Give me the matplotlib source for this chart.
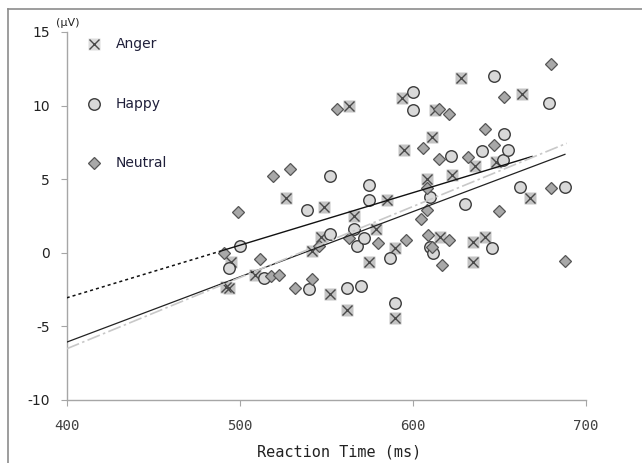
import matplotlib
matplotlib.use('Agg')
import matplotlib.pyplot as plt
from matplotlib.lines import Line2D
import numpy as np

# values (x: reaction time in ms, y: amplitude in microvolts)
anger_rt = [492, 494, 495, 509, 527, 542, 547, 549, 552, 562, 563, 566, 575, 579, 585,
            590, 590, 594, 595, 608, 611, 613, 616, 623, 628, 635, 635, 636, 642, 648,
            663, 668]
anger_amp = [-2.3, -2.4, -0.6, -1.5, 3.7, 0.1, 1.1, 3.1, -2.8, -3.9, 10.0, 2.5, -0.6, 1.6, 3.6,
             0.3, -4.4, 10.5, 7.0, 5.0, 7.9, 9.7, 1.1, 5.3, 11.9, 0.7, -0.6, 5.9, 1.1, 6.2,
             10.8, 3.7]

happy_rt = [494, 500, 514, 539, 540, 552, 552, 562, 566, 568, 570, 572, 575, 575, 587,
            590, 600, 600, 610, 610, 612, 622, 630, 640, 646, 647, 652, 653, 655, 662,
            679, 688]
happy_amp = [-1.0, 0.45, -1.7, 2.9, -2.45, 5.2, 1.3, -2.4, 1.6, 0.45, -2.25, 1.0, 4.6, 3.6, -0.35,
             -3.4, 10.9, 9.7, 3.8, 0.4, 0.0, 6.6, 3.3, 6.9, 0.3, 12.0, 6.3, 8.1, 7.0, 4.5,
             10.2, 4.5]

neutral_rt = [491, 499, 512, 518, 523, 519, 529, 532, 542, 546, 556, 563, 580, 596, 605,
              608, 608, 606, 609, 611, 615, 615, 617, 621, 621, 632, 642, 647, 650, 653,
              680, 680, 688]
neutral_amp = [0.0, 2.8, -0.45, -1.55, -1.5, 5.25, 5.7, -2.4, -1.8, 0.45, 9.8, 1.0, 0.65, 0.85, 2.3,
               2.9, 4.4, 7.1, 1.2, 0.4, 6.4, 9.8, -0.85, 9.4, 0.9, 6.5, 8.4, 7.3, 2.85, 10.6,
               12.8, 4.4, -0.55]

# trend lines: value at 400 ms, slope per ms, solid range
trend_names = ['Anger', 'Happy', 'Neutral']
trend_at_400 = [-3.06, -6.07, -6.52]
trend_slope = [0.0357, 0.0443, 0.0483]
trend_start = [490, 400, 400]
trend_end = [669, 688, 689]

x_ticks = [400, 500, 600, 700]
y_ticks = [-10, -5, 0, 5, 10, 15]

fig = plt.figure(figsize=(6.42, 4.63), dpi=100)
ax = fig.add_axes([0.1039, 0.1361, 0.8084, 0.7948])

# markers
ax.plot(anger_rt, anger_amp, 's', ms=8.3, mfc='#c4c4c4', mec='none', zorder=3)
ax.plot(anger_rt, anger_amp, 'x', ms=7.8, mec='#4a4a4a', mew=1.0, zorder=3)
ax.plot(happy_rt, happy_amp, 'o', ms=8.3, mfc='#d9d9d9', mec='#3c3c3c', mew=1.0, zorder=4)
ax.plot(neutral_rt, neutral_amp, 'D', ms=6.0, mfc='#a8a8a8', mec='#555555', mew=0.9, zorder=5)

# trend lines
styles = [dict(color='#111111', lw=1.0, ls='-'),
          dict(color='#222222', lw=0.9, ls='-'),
          dict(color='#c8c8c8', lw=1.2, dashes=(8, 2, 1.5, 2))]
for a0, b, s, e, st in zip(trend_at_400, trend_slope, trend_start, trend_end, styles):
    xs = np.array([s, e])
    ax.plot(xs, a0 + b * (xs - 400), zorder=6, **st)
# backward extension of the first trend line, drawn dotted
xs = np.array([400, trend_start[0]])
ax.plot(xs, trend_at_400[0] + trend_slope[0] * (xs - 400), color='#111111',
        lw=1.1, dashes=(2, 2), zorder=6)

ax.set_xlim(400, 700)
ax.set_ylim(-10, 15)
ax.set_xticks(x_ticks)
ax.set_yticks(y_ticks)
ax.set_xticklabels([str(v) for v in x_ticks], fontfamily='DejaVu Sans Mono',
                   fontsize=10.2, color='#404040')
ax.set_yticklabels([str(v) for v in y_ticks], fontfamily='DejaVu Sans',
                   fontsize=10, color='#222222')
for side in ['top', 'right']:
    ax.spines[side].set_visible(False)
for side in ['left', 'bottom']:
    ax.spines[side].set_color('#a6a6a6')
    ax.spines[side].set_linewidth(1.0)
ax.tick_params(axis='y', direction='out', length=4, color='#a6a6a6', pad=8)
ax.tick_params(axis='x', direction='out', length=4, color='#a6a6a6', pad=10)

ax.set_xlabel('Reaction Time (ms)', fontfamily='DejaVu Sans Mono', fontsize=11,
              color='#222222')
ax.xaxis.set_label_coords(0.525, -0.122)

fig.text(0.088, 0.95, '(μV)', fontsize=8, color='#222222', ha='left', va='center')

# legend drawn by hand in axes coordinates
leg_y = [0.967, 0.804, 0.644]
ax.plot([0.0526], [leg_y[0]], 's', ms=8.3, mfc='#dcdcdc', mec='none', transform=ax.transAxes)
ax.plot([0.0526], [leg_y[0]], 'x', ms=7.8, mec='#4a4a4a', mew=1.0, transform=ax.transAxes)
ax.plot([0.0526], [leg_y[1]], 'o', ms=8.3, mfc='#d9d9d9', mec='#3c3c3c', mew=1.0,
        transform=ax.transAxes)
ax.plot([0.0526], [leg_y[2]], 'D', ms=6.0, mfc='#a8a8a8', mec='#555555', mew=0.9,
        transform=ax.transAxes)
for name, yy in zip(trend_names, leg_y):
    ax.text(0.095, yy, name, transform=ax.transAxes, fontsize=10, color='#1f1f3a',
            va='center', ha='left')

# outer frame (top and left edges visible in the reference)
fig.add_artist(Line2D([0.0117, 1.0], [0.9795, 0.9795], transform=fig.transFigure,
                      color='#8c8c8c', lw=1.2))
fig.add_artist(Line2D([0.0117, 0.0117], [0.0, 0.9795], transform=fig.transFigure,
                      color='#8c8c8c', lw=1.2))

fig.savefig('out.png', dpi=100)
